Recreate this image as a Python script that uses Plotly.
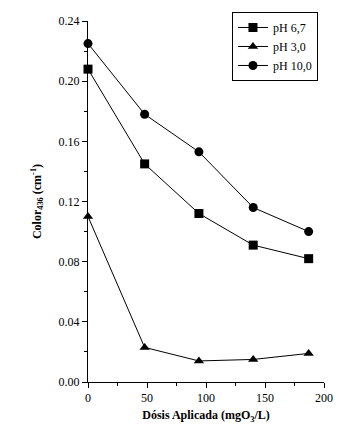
import plotly.graph_objects as go

dose = [0, 48, 94, 140, 187]
ph67 = [0.208, 0.145, 0.112, 0.091, 0.082]
ph30 = [0.110, 0.023, 0.014, 0.015, 0.019]
ph100 = [0.225, 0.178, 0.153, 0.116, 0.100]

series = [
    ("pH 6,7", ph67, "square"),
    ("pH 3,0", ph30, "triangle-up"),
    ("pH 10,0", ph100, "circle"),
]

fig = go.Figure()
for name, vals, sym in series:
    fig.add_trace(go.Scatter(
        x=dose, y=vals, name=name, mode="lines+markers",
        line=dict(color="black", width=1),
        marker=dict(symbol=sym, size=9, color="black"),
        cliponaxis=False,
    ))

font = dict(family="Liberation Serif", size=12, color="black")
fig.update_layout(
    width=345, height=434,
    margin=dict(l=88, r=15, t=20, b=52),
    paper_bgcolor="white", plot_bgcolor="white",
    font=font,
    showlegend=True,
    legend=dict(x=0.61, y=1.025, xanchor="left", yanchor="top",
                bordercolor="black", borderwidth=1, bgcolor="white",
                font=dict(family="Liberation Serif", size=12, color="black"),
                tracegroupgap=0, itemwidth=30, itemsizing="trace"),
)
fig.update_xaxes(
    range=[0, 200], tickvals=[0, 50, 100, 150, 200],
    showline=True, linecolor="black", linewidth=1,
    ticks="outside", ticklen=5, tickcolor="black",
    minor=dict(tickvals=[25, 75, 125, 175], ticks="outside", ticklen=3, tickcolor="black"),
    showgrid=False, zeroline=False,
    title=dict(text="<b>Dósis Aplicada (mgO<sub>3</sub>/L)</b>", font=dict(family="Liberation Serif", size=12), standoff=6),
)
fig.update_yaxes(
    range=[0, 0.24], tickvals=[0, 0.04, 0.08, 0.12, 0.16, 0.20, 0.24],
    tickformat=".2f",
    showline=True, linecolor="black", linewidth=1,
    ticks="outside", ticklen=5, tickcolor="black",
    minor=dict(tickvals=[0.02, 0.06, 0.10, 0.14, 0.18, 0.22], ticks="outside", ticklen=3, tickcolor="black"),
    showgrid=False, zeroline=False,
    title=dict(text="<b>Color<sub>436</sub> (cm<sup>-1</sup>)</b>", font=dict(family="Liberation Serif", size=12), standoff=14),
)

fig.write_html("out.html", config={"displayModeBar": False},
               post_script="document.body.style.margin='0';")
